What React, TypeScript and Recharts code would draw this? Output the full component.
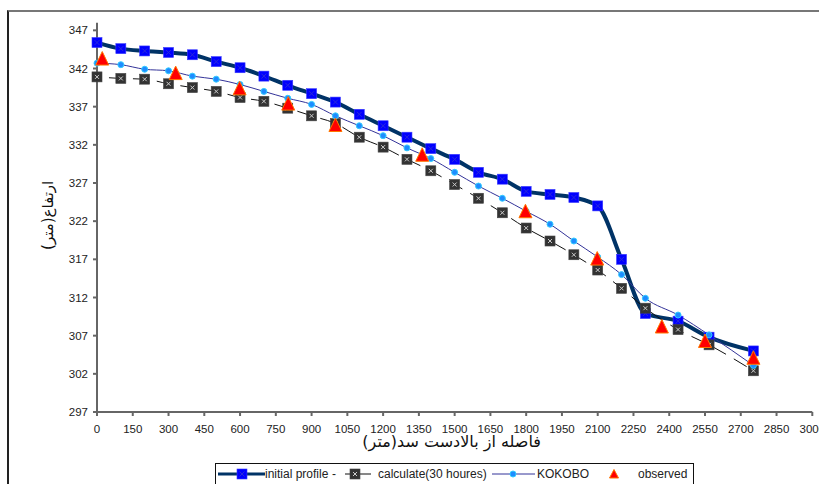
import React from 'react';
import { LineChart, Line, XAxis, YAxis, Legend } from 'recharts';

const distances = [0, 100, 200, 300, 400, 500, 600, 700, 800, 900, 1000, 1100, 1200, 1300, 1400, 1500, 1600, 1700, 1800, 1900, 2000, 2100, 2200, 2300, 2437, 2567, 2753];
const initialProfile = [345.4, 344.6, 344.3, 344.1, 343.8, 342.9, 342.1, 341.0, 339.8, 338.7, 337.6, 336.0, 334.5, 333.0, 331.5, 330.1, 328.4, 327.5, 325.9, 325.5, 325.1, 324.0, 317.0, 309.9, 308.9, 306.8, 305.0];
const calculated = [340.9, 340.7, 340.6, 340.0, 339.5, 339.0, 338.2, 337.7, 336.8, 335.8, 334.8, 333.0, 331.7, 330.1, 328.6, 326.8, 325.0, 323.1, 321.1, 319.4, 317.6, 315.6, 313.2, 310.6, 307.8, 305.8, 302.4];
const kokobo = [342.7, 342.5, 341.9, 341.7, 341.0, 340.6, 339.9, 339.0, 338.1, 337.3, 335.8, 334.5, 333.2, 331.6, 330.2, 328.4, 326.6, 325.0, 323.3, 321.6, 319.4, 317.3, 315.0, 311.9, 309.7, 307.1, 303.1];
const observedX = [22, 330, 598, 802, 1000, 1364, 1797, 2098, 2369, 2550, 2753];
const observedY = [343.3, 341.4, 339.4, 337.4, 334.6, 330.7, 323.3, 317.1, 308.2, 306.3, 304.1];
const xTicks = [0, 150, 300, 450, 600, 750, 900, 1050, 1200, 1350, 1500, 1650, 1800, 1950, 2100, 2250, 2400, 2550, 2700, 2850, 3000];
const yTicks = [297, 302, 307, 312, 317, 322, 327, 332, 337, 342, 347];
const seriesNames = ['initial profile', 'calculate(30 houres)', 'KOKOBO', 'observed'];
const xTitle = 'فاصله از بالادست سد(متر)';
const yTitle = 'ارتفاع(متر)';

const toRows = (xs: number[], ys: number[]) => xs.map((x, i) => ({ x, y: ys[i] }));
const initialRows = toRows(distances, initialProfile);
const calculatedRows = toRows(distances, calculated);
const kokoboRows = toRows(distances, kokobo);
const observedRows = toRows(observedX, observedY);

const FONT = '"Liberation Sans", Arial, sans-serif';

const BlueSquare = ({ cx, cy }: any) => (
  <g>
    <rect x={cx - 5} y={cy - 5} width={10} height={10} fill="#0000ff" stroke="#3a3aff" strokeWidth={0.6} />
    <path d={`M${cx - 2.5} ${cy - 2.5}L${cx + 2.5} ${cy + 2.5}M${cx + 2.5} ${cy - 2.5}L${cx - 2.5} ${cy + 2.5}`} stroke="#2a2ad8" strokeWidth={1} />
  </g>
);
const GreySquare = ({ cx, cy }: any) => (
  <g>
    <rect x={cx - 5} y={cy - 5} width={10} height={10} fill="#333333" stroke="#444444" strokeWidth={0.6} />
    <path d={`M${cx - 2} ${cy - 2}L${cx + 2} ${cy + 2}M${cx + 2} ${cy - 2}L${cx - 2} ${cy + 2}`} stroke="#cccccc" strokeWidth={1} />
  </g>
);
const BlueDot = ({ cx, cy }: any) => <circle cx={cx} cy={cy} r={3} fill="#1e8cff" stroke="#33ccff" strokeWidth={1} />;
const RedTriangle = ({ cx, cy }: any) => (
  <path d={`M${cx} ${cy - 7}L${cx + 6.5} ${cy + 6.5}L${cx - 6.5} ${cy + 6.5}Z`} fill="#ff0000" stroke="#ff7700" strokeWidth={1} />
);

const ChartLegend = () => (
  <svg width={480} height={24} style={{ display: 'block' }}>
    <rect x={0.5} y={0.5} width={478} height={40} fill="#ffffff" stroke="#111111" strokeWidth={1} />
    <g fontFamily={FONT} fontSize={12} fill="#222222">
      <line x1={3} x2={50} y1={11} y2={11} stroke="#003366" strokeWidth={3} />
      <BlueSquare cx={27} cy={11} />
      <text x={50} y={15}>{seriesNames[0]}</text>
      <text x={117} y={15}>-</text>
      <line x1={130} x2={156} y1={11} y2={11} stroke="#111111" strokeWidth={1} />
      <GreySquare cx={140} cy={11} />
      <text x={163} y={15}>{seriesNames[1]}</text>
      <line x1={277} x2={320} y1={11} y2={11} stroke="#333399" strokeWidth={1} />
      <BlueDot cx={298} cy={11} />
      <text x={322} y={15}>{seriesNames[2]}</text>
      <path d="M399 6.5L403.5 15L394.5 15Z" fill="#ff0000" stroke="#ff7700" strokeWidth={1} />
      <text x={423} y={15}>{seriesNames[3]}</text>
    </g>
  </svg>
);

export default function App() {
  const tick = { fontFamily: FONT, fontSize: 11.5, fill: '#222222' };
  return (
    <div style={{ position: 'absolute', left: 0, top: 0, width: 819, height: 484, overflow: 'hidden', background: '#ffffff' }}>
      <div style={{ position: 'absolute', left: 7, top: 10, width: 900, height: 600, borderLeft: '2px solid #222222', borderTop: '2px solid #777777' }} />
      <div style={{ position: 'absolute', left: 0, top: 0 }}>
        <LineChart
          width={819}
          height={484}
          margin={{ top: 22.7, right: 6.7, bottom: 42, left: 37 }}
          style={{ overflow: 'visible' }}
        >
          <XAxis
            type="number"
            dataKey="x"
            domain={[0, 3000]}
            ticks={xTicks}
            interval={0}
            height={30}
            tick={tick}
            tickSize={4}
            tickMargin={9}
            stroke="#666666"
            strokeWidth={2}
            allowDuplicatedCategory={false}
            label={{ value: xTitle, position: 'insideBottom', offset: -5, dx: -3, style: { fontFamily: '"DejaVu Sans"', fontSize: 16, fill: '#111111' } }}
          />
          <YAxis
            type="number"
            domain={[297, 348]}
            ticks={yTicks}
            interval={0}
            width={60}
            tick={tick}
            tickSize={4}
            tickMargin={5}
            stroke="#666666"
            strokeWidth={2}
            label={{ value: yTitle, angle: -90, position: 'insideLeft', offset: 0, dx: 11, dy: -2, style: { fontFamily: '"DejaVu Sans"', fontSize: 15, fill: '#111111', textAnchor: 'middle' } }}
          />
          <Legend
            layout="horizontal"
            verticalAlign="middle"
            align="center"
            content={() => <ChartLegend />}
            wrapperStyle={{ left: 215, top: 463, width: 480, height: 24, bottom: 'auto' }}
          />
          <Line data={initialRows} dataKey="y" name={seriesNames[0]} type="monotone" stroke="#003366" strokeWidth={4} dot={<BlueSquare />} isAnimationActive={false} />
          <Line data={calculatedRows} dataKey="y" name={seriesNames[1]} type="monotone" stroke="#111111" strokeWidth={1} strokeDasharray="15 9" strokeDashoffset={12} dot={<GreySquare />} isAnimationActive={false} />
          <Line data={kokoboRows} dataKey="y" name={seriesNames[2]} type="monotone" stroke="#333399" strokeWidth={1} dot={<BlueDot />} isAnimationActive={false} />
          <Line data={observedRows} dataKey="y" name={seriesNames[3]} stroke="none" dot={<RedTriangle />} isAnimationActive={false} />
        </LineChart>
      </div>
    </div>
  );
}
